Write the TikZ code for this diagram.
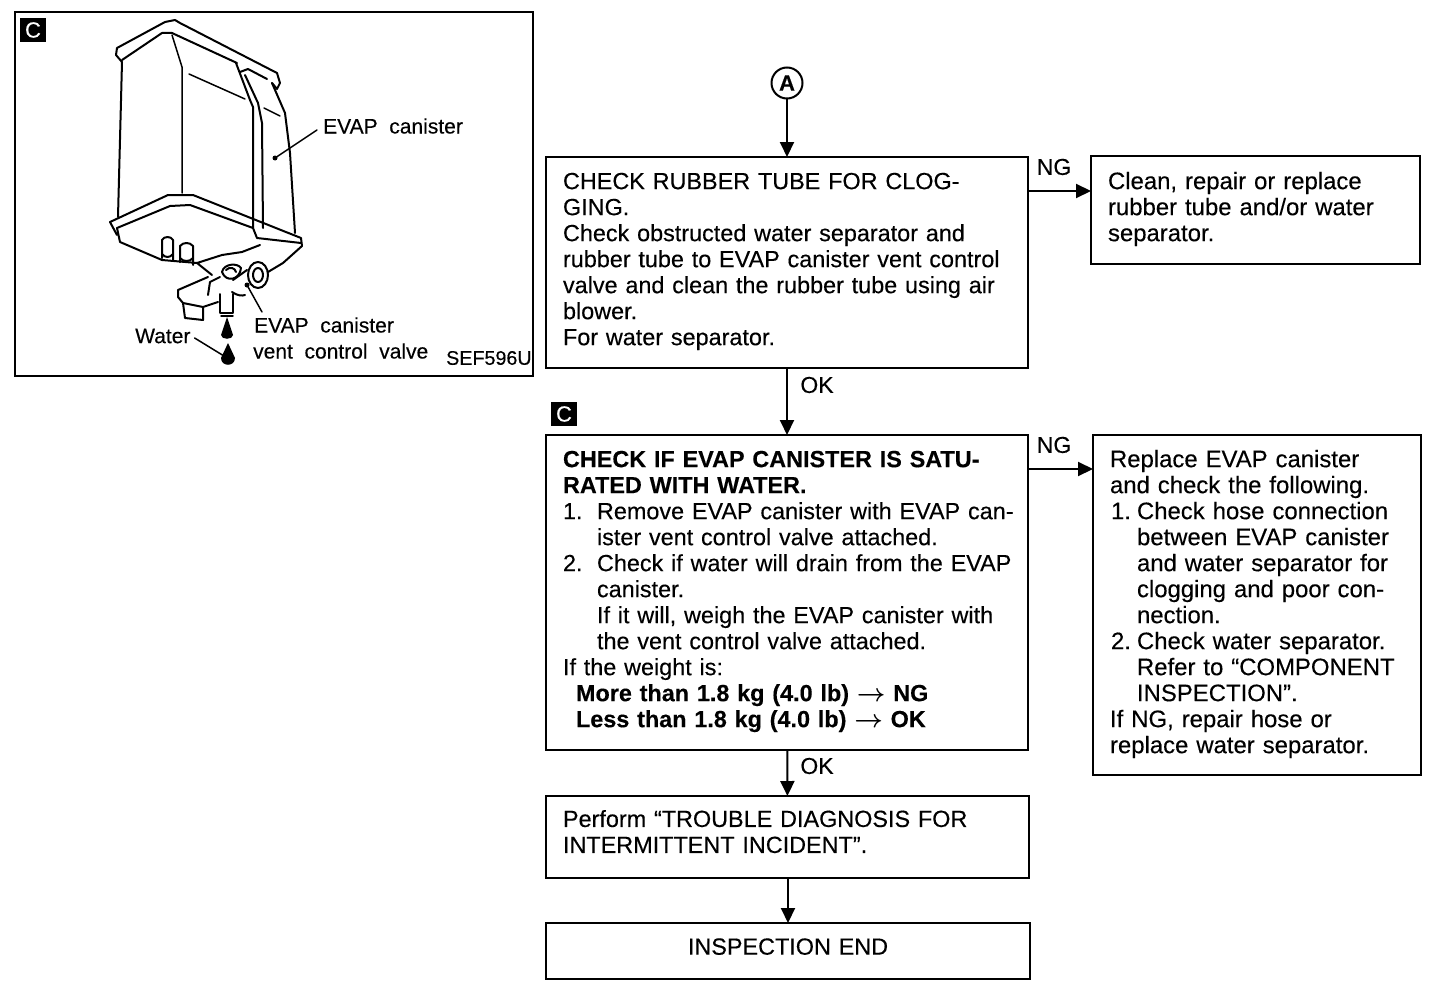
\documentclass[tikz,border=0pt]{standalone}
\usepackage{fontspec, amsmath}
\setmainfont{Liberation Sans}[FakeBold=0.25]
\usetikzlibrary{arrows.meta}
\tikzset{
  box/.style={draw, line width=2pt, anchor=north west, align=left, outer sep=0pt, inner ysep=0pt, inner xsep=17pt},
  sidebox/.style={box, font=\fontsize{23.9}{26}\selectfont},
  flow/.style={line width=2pt, -{Triangle[length=15pt,width=14pt]}},
  badge/.style={fill=black, text=white, minimum width=26pt, minimum height=24pt, inner sep=0pt, font=\fontsize{22}{22}\selectfont},
  lab/.style={inner sep=0pt, font=\fontsize{23}{26}\selectfont},
  caption/.style={inner sep=0pt, anchor=west, font=\fontsize{21}{24}\selectfont},
  art/.style={line width=2pt, line join=round, line cap=round},
  artthin/.style={line width=1.5pt, line join=round, line cap=round}
}
\newcommand{\numline}[2]{\mbox{\makebox[34pt][l]{#1}#2}}
\newcommand{\subline}[1]{\hspace*{34pt}#1}
\newcommand{\shortline}[2]{\hspace*{1pt}\makebox[26pt][l]{#1}#2}
\newcommand{\subshort}[1]{\hspace*{27pt}#1}
% a deeper last line, to lift the text a little in its box
\newcommand{\lift}[1]{\rule[-#1pt]{0pt}{#1pt}}
\begin{document}
\begin{tikzpicture}[x=1pt,y=-1pt]
\useasboundingbox (0,0) rectangle (1440,990);
\fill[white] (0,0) rectangle (1440,990);
\fontsize{23.4}{26}\selectfont
%Start with the picture frame on the left, and its badge
\node[draw, line width=2pt, outer sep=0pt, minimum width=518pt, minimum height=364pt, anchor=north west, inner sep=0pt](frame) at (15,12){};
\node[badge](c1) at (33,30){C};
% the canister body, top rim first
\draw[art] (122,62) -- (116,55) -- (117,48) -- (165,22) -- (175,20) -- (180,23) -- (277,73) -- (280,83) -- (277,89) -- (272,83);
\draw[art] (122,60) -- (162,33) -- (172,33) -- (237,63);
\draw[art] (236,63) -- (250,100) -- (253,107) -- (253,228);
\draw[art] (240,72) -- (248,69) -- (267,79);
\draw[art] (245,75) -- (258,103) -- (262,123) -- (263,228);
\draw[art] (272,83) -- (285,113) -- (290,153) -- (295,233);
\draw[art] (122,62) -- (118,217);
\draw[artthin] (172,35) -- (182,67) -- (182,193);
\draw[artthin] (189,74) -- (245,99);
\draw[artthin] (264,108) -- (280,116);
% the lower rim
\draw[art] (110,222) -- (168,195) -- (193,195) -- (301,238) -- (302,246) -- (283,263) -- (268,272);
\draw[art] (110,222) -- (117,235);
\draw[art] (117,228) -- (170,206) -- (190,205) -- (253,228) -- (257,238) -- (301,243);
\draw[art] (117,228) -- (120,242) -- (162,260) -- (197,263);
\draw[art] (212,275) -- (197,263) -- (222,255) -- (242,252) -- (260,245);
% the two stubs under the rim
\draw[art] (162,258) -- (162,240) .. controls (164,236) and (171,236) .. (173,240) -- (173,260);
\draw[art] (162,254) .. controls (165,258) and (170,258) .. (173,254);
\draw[art] (180,262) -- (180,246) .. controls (183,242) and (190,242) .. (193,246) -- (193,265);
\draw[art] (180,258) .. controls (183,262) and (190,262) .. (193,258);
% vent control valve, and elbow below it
\draw[art] (258,275) ellipse (10 and 13);
\draw[art] (258,275) ellipse (5 and 7);
\draw[art] (222,272) .. controls (224,263) and (238,263) .. (241,268) .. controls (240,280) and (226,283) .. (222,272);
\draw[art] (226,270) .. controls (230,266) and (235,268) .. (236,272);
\draw[art] (233,280) -- (247,270);
\draw[art] (232,292) .. controls (238,296) and (242,296) .. (245,295);
\draw[art] (208,277) -- (178,290) -- (178,297) -- (183,303) -- (203,307) -- (218,302);
\draw[art] (208,295) -- (210,282) -- (220,277);
\draw[art] (183,303) -- (185,318) -- (203,320) -- (203,307);
\draw[art] (220,294) -- (220,313) -- (233,313) -- (233,294);
\draw[artthin] (221,316) -- (233,316);
% the water that drips out
\fill (227,317) -- (233,335) .. controls (233,340) and (221,340) .. (221,335) -- cycle;
\fill (228,343) -- (235,358) .. controls (235,367) and (221,367) .. (221,358) -- cycle;
% labels of the picture, with their leader lines
\node[caption](canister) at (323,126){EVAP\ \ canister};
\node[caption](valve1) at (254,325){EVAP\ \ canister};
\node[caption](valve2) at (253,351){vent\ \ control\ \ valve};
\node[caption](water) at (135,336){Water};
\node[caption, font=\fontsize{19.7}{24}\selectfont](code) at (446,358){SEF596U};
\coordinate (tipA) at (275,158);
\coordinate (tipB) at (247,285);
\coordinate (tipC) at (224,356);
\draw[artthin] (canister.west) ++(-6,4) -- (tipA);
\fill (tipA) circle (2.5);
\draw[artthin] (valve1.west) ++(8,-13) -- (tipB);
\fill (tipB) circle (2.5);
\draw[artthin] (water.east) ++(4,2) -- (tipC);
%Now the flow chart, from the top down
\node[draw, circle, line width=2pt, outer sep=0pt, minimum size=31pt, inner sep=0pt, font=\bfseries\fontsize{22}{22}\selectfont](a) at (787,83){A};
\node[box, minimum width=482pt, minimum height=211pt, text width=448pt](tube) at (546,157){%
CHECK RUBBER TUBE FOR CLOG-\\
GING.\\
Check obstructed water separator and\\
rubber tube to EVAP canister vent control\\
valve and clean the rubber tube using air\\
blower.\\
For water separator.\lift{7}};
\node[sidebox, minimum width=329pt, minimum height=108pt, text width=295pt](clean) at (1091,156){%
Clean, repair or replace\\
rubber tube and/or water\\
separator.\lift{7}};
\node[badge](c2) at (564,414){C};
\node[box, minimum width=482pt, minimum height=315pt, text width=448pt](satur) at (546,435){%
\textbf{CHECK IF EVAP CANISTER IS SATU-}\\
\textbf{RATED WITH WATER.}\\
\numline{1.}{Remove EVAP canister with EVAP can-}\\
\subline{ister vent control valve attached.}\\
\numline{2.}{Check if water will drain from the EVAP}\\
\subline{canister.}\\
\subline{If it will, weigh the EVAP canister with}\\
\subline{the vent control valve attached.}\\
If the weight is:\\
\hspace*{13pt}\textbf{More than 1.8 kg (4.0 lb) $\boldsymbol{\rightarrow}$ NG}\\
\hspace*{13pt}\textbf{Less than 1.8 kg (4.0 lb) $\boldsymbol{\rightarrow}$ OK}\lift{7}};
\node[sidebox, minimum width=328pt, minimum height=340pt, text width=294pt](replace) at (1093,435){%
Replace EVAP canister\\
and check the following.\\
\shortline{1.}{Check hose connection}\\
\subshort{between EVAP canister}\\
\subshort{and water separator for}\\
\subshort{clogging and poor con-}\\
\subshort{nection.}\\
\shortline{2.}{Check water separator.}\\
\subshort{Refer to “COMPONENT}\\
\subshort{INSPECTION”.}\\
If NG, repair hose or\\
replace water separator.\lift{7}};
\node[box, minimum width=483pt, minimum height=82pt, text width=449pt](perform) at (546,796){%
Perform “TROUBLE DIAGNOSIS FOR\\
INTERMITTENT INCIDENT”.\lift{11}};
\node[box, align=center, minimum width=484pt, minimum height=56pt, text width=450pt](finish) at (546,923){INSPECTION END\lift{9}};
% the connectors
\coordinate (ngtube) at (1028,191);
\coordinate (ngsatur) at (1028,469);
\draw[flow] (a) -- (tube);
\draw[flow] (tube) -- (satur);
\draw[flow] (satur) -- (perform);
\draw[flow] (perform.south -| finish.north) -- (finish.north);
\draw[flow] (ngtube) -- (ngtube -| clean.west);
\draw[flow] (ngsatur) -- (ngsatur -| replace.west);
% and what is written on them
\node[lab](ng1) at (1054,167){NG};
\node[lab](ng2) at (1054,445){NG};
\node[lab](ok1) at (817,385){OK};
\node[lab](ok2) at (817,766){OK};
\end{tikzpicture}
\end{document}
